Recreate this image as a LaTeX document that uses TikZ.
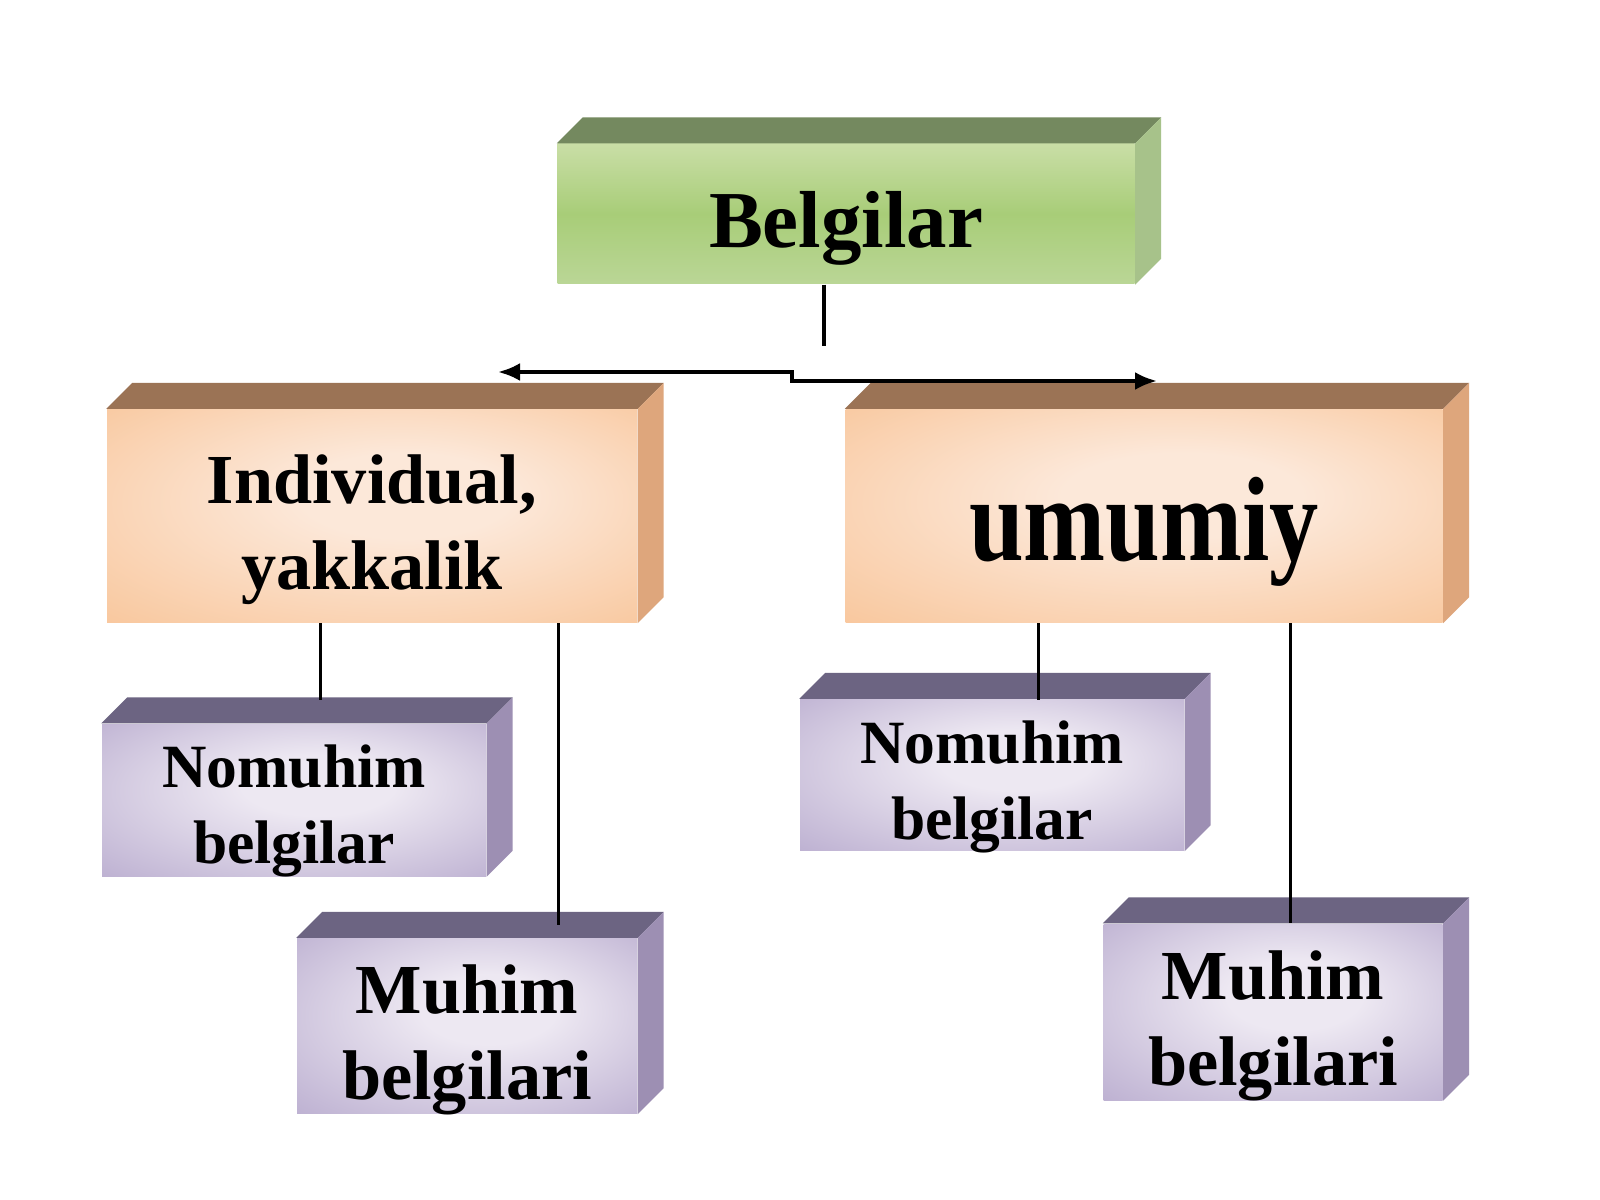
\documentclass[tikz,border=0pt]{standalone}
\usepackage{fontspec}
\setmainfont{Liberation Serif}
\usepackage{graphicx}
\usepackage{tikz}
\usetikzlibrary{arrows.meta,calc}

\definecolor{greentop}{HTML}{74895F}
\definecolor{greenside}{HTML}{A7C28A}
\definecolor{greenhi}{HTML}{C9DEA6}
\definecolor{greenmid}{HTML}{A8CD78}
\definecolor{greenlo}{HTML}{BAD696}
\definecolor{orangetop}{HTML}{9B7355}
\definecolor{orangeside}{HTML}{DEA67C}
\definecolor{orangein}{HTML}{FCE8D9}
\definecolor{orangeout}{HTML}{F8C294}
\definecolor{purpletop}{HTML}{6C6482}
\definecolor{purpleside}{HTML}{9D8FB3}
\definecolor{purplein}{HTML}{EDE8F2}
\definecolor{purpleout}{HTML}{B2A4CA}

\pgfdeclareradialshading{orangeglow}{\pgfpoint{4bp}{6bp}}{color(0bp)=(orangein); color(10bp)=(orangein); color(42bp)=(orangeout); color(50bp)=(orangeout)}
\pgfdeclareradialshading{purpleglow}{\pgfpoint{4bp}{6bp}}{color(0bp)=(purplein); color(10bp)=(purplein); color(44bp)=(purpleout); color(50bp)=(purpleout)}

\tikzstyle{block} = [rectangle, inner sep=0pt]
\tikzstyle{greenbox} = [block, top color=greenhi, bottom color=greenlo, middle color=greenmid]
\tikzstyle{orangebox} = [block, shading=orangeglow]
\tikzstyle{purplebox} = [block, shading=purpleglow]
\tikzstyle{blocktext} = [align=center, text=black, inner sep=0pt]
\tikzstyle{conn} = [draw=black, line width=0.9pt]

% top and side faces of a block
\newcommand{\blockfaces}[3]{%
    \fill[#2] (#1.north west) -- ++(2.6mm,2.6mm) -- ([shift={(2.6mm,2.6mm)}]#1.north east) -- (#1.north east) -- cycle;
    \fill[#3] (#1.north east) -- ++(2.6mm,2.6mm) -- ([shift={(2.6mm,2.6mm)}]#1.south east) -- (#1.south east) -- cycle;
}

\begin{document}
\begin{tikzpicture}[x=0.1mm, y=-0.1mm]
                \useasboundingbox[fill=white] (0,0) rectangle (1600,1200);

                % blocks
                \node [greenbox, minimum width=57.7mm, minimum height=14mm] (bel) at (846,214) {};
                \node [orangebox, minimum width=53mm, minimum height=21.3mm] (indiv) at (372,516) {};
                \node [orangebox, minimum width=59.7mm, minimum height=21.3mm] (umum) at (1144,516) {};
                \node [purplebox, minimum width=38.4mm, minimum height=15.2mm] (nomL) at (294,800) {};
                \node [purplebox, minimum width=34mm, minimum height=17.5mm] (muhL) at (467,1026) {};
                \node [purplebox, minimum width=38.4mm, minimum height=15.1mm] (nomR) at (992,775) {};
                \node [purplebox, minimum width=33.9mm, minimum height=17.6mm] (muhR) at (1273,1012) {};

                \blockfaces{bel}{greentop}{greenside}
                \blockfaces{indiv}{orangetop}{orangeside}
                \blockfaces{umum}{orangetop}{orangeside}
                \blockfaces{nomL}{purpletop}{purpleside}
                \blockfaces{muhL}{purpletop}{purpleside}
                \blockfaces{nomR}{purpletop}{purpleside}
                \blockfaces{muhR}{purpletop}{purpleside}

                % texts
                \node [blocktext, font=\bfseries\fontsize{23}{26}\selectfont] (beltext) at ([yshift=-1.4mm]bel.center) {Belgilar};
                \node [blocktext, font=\bfseries\fontsize{20}{24.5}\selectfont] (indivtext) at ([yshift=-1.4mm]indiv.center) {Individual,\\yakkalik};
                \node [blocktext, font=\bfseries\fontsize{28}{32}\selectfont] (umumtext) at ([yshift=-1.6mm]umum.center) {\scalebox{1}[1.22]{umumiy}};
                \node [blocktext, font=\bfseries\fontsize{17.5}{21.5}\selectfont] (nomLtext) at ([yshift=-1.1mm]nomL.center) {Nomuhim\\belgilar};
                \node [blocktext, font=\bfseries\fontsize{20}{24.5}\selectfont] (muhLtext) at ([yshift=-1.4mm]muhL.center) {Muhim\\belgilari};
                \node [blocktext, font=\bfseries\fontsize{17.5}{21.5}\selectfont] (nomRtext) at ([yshift=-1.2mm]nomR.center) {Nomuhim\\belgilar};
                \node [blocktext, font=\bfseries\fontsize{20}{24.5}\selectfont] (muhRtext) at ([yshift=-1.4mm]muhR.center) {Muhim\\belgilari};

                % split under the title
                \draw[conn] ([xshift=-2.2mm]bel.south) -- ++(0,-6.1mm);
                \coordinate (split) at (792,372);
                \coordinate (leftend) at (498,372);
                \coordinate (rightend) at (1157,381);
                \draw[conn, line width=1.1pt, {Latex[length=2.2mm,width=1.8mm]}-{Latex[length=2.2mm,width=1.8mm]}]
                    (leftend) -- (split) -- ++(0,-0.9mm) -- (rightend);

                % children
                \draw[conn] ([xshift=21.4mm]indiv.south west) -- ++(0,-7.7mm);
                \draw[conn] ([xshift=45.2mm]indiv.south west) -- ++(0,-30.2mm);
                \draw[conn] ([xshift=19.4mm]umum.south west) -- ++(0,-7.7mm);
                \draw[conn] ([xshift=44.6mm]umum.south west) -- ++(0,-30mm);
\end{tikzpicture}
\end{document}
